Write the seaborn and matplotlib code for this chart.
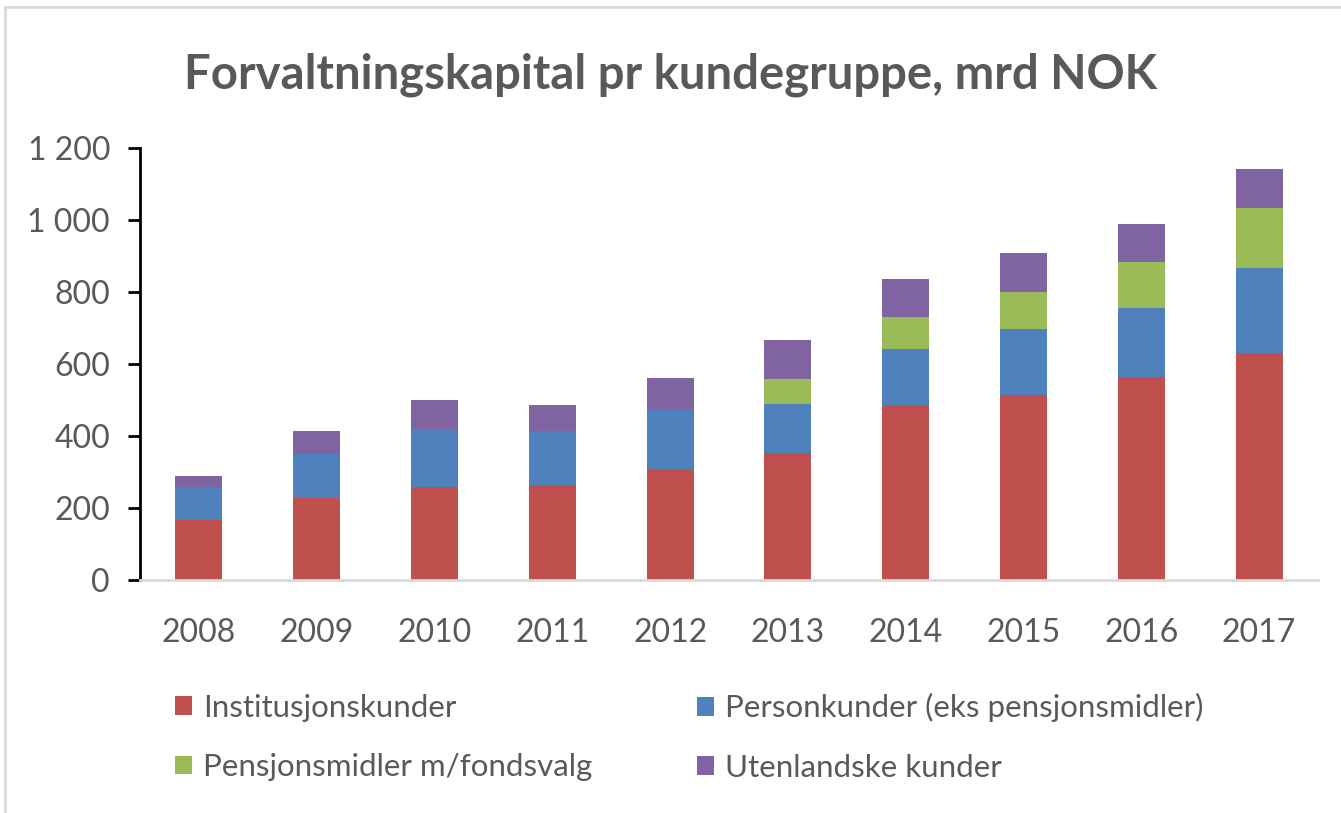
import matplotlib
matplotlib.use("Agg")
import matplotlib.pyplot as plt
from matplotlib.patches import Patch, Rectangle
from matplotlib.ticker import FuncFormatter
import seaborn as sns
import numpy as np
import pandas as pd

years = ["2008", "2009", "2010", "2011", "2012", "2013", "2014", "2015", "2016", "2017"]
institusjon = [167, 228, 258, 263, 308, 354, 485, 514, 565, 631]
person = [92, 121, 161, 150, 166, 135, 156, 182, 190, 235]
pensjon = [0, 0, 0, 0, 0, 70, 89, 105, 127, 167]
utenlandske = [29, 66, 81, 72, 86, 107, 106, 106, 106, 110]

series_names = ["Institusjonskunder", "Personkunder (eks pensjonsmidler)",
                "Pensjonsmidler m/fondsvalg", "Utenlandske kunder"]
series_vals = [institusjon, person, pensjon, utenlandske]
colors = ["#C0504D", "#4F81BD", "#9BBB59", "#8064A2"]

sns.set_style("white")
plt.rcParams["font.family"] = ["Lato", "DejaVu Sans"]

W, H = 1341, 813
fig = plt.figure(figsize=(W / 100, H / 100), dpi=100)
ax = fig.add_axes([140 / W, (H - 580) / H, 1178 / W, 432 / H])

cum = np.cumsum(np.array(series_vals, dtype=float), axis=0)
for i in range(len(series_vals) - 1, -1, -1):
    df = pd.DataFrame({"year": years, "value": cum[i]})
    sns.barplot(data=df, x="year", y="value", color=colors[i], width=0.40,
                saturation=1, ax=ax, edgecolor="none", linewidth=0, zorder=2)

ax.set_xlim(-0.5, 9.5)
ax.set_ylim(0, 1200)
ax.set_yticks(range(0, 1201, 200))
ax.yaxis.set_major_formatter(FuncFormatter(lambda v, p: f"{int(v):,}".replace(",", " ")))
ax.set_xlabel("")
ax.set_ylabel("")

for s in ["top", "right"]:
    ax.spines[s].set_visible(False)
ax.spines["left"].set_color("black")
ax.spines["left"].set_linewidth(2)
ax.spines["bottom"].set_color("#d9d9d9")
ax.spines["bottom"].set_linewidth(2)

ax.tick_params(axis="y", which="major", direction="out", length=8.6, width=2, color="black",
               left=True, labelsize=23, labelcolor="#595959", pad=13)
ax.tick_params(axis="x", length=0, labelsize=23, labelcolor="#595959", pad=27)

fig.text(0.5, 1 - 75 / H, "Forvaltningskapital pr kundegruppe, mrd NOK", ha="center", va="center",
         fontsize=34, fontweight="bold", color="#595959")

handles = [Patch(facecolor=colors[i], edgecolor="none") for i in range(4)]
leg_kw = dict(loc="center left", frameon=False, fontsize=22.5, labelcolor="#595959",
              handlelength=0.55, handleheight=0.55, handletextpad=0.35,
              labelspacing=1.0, borderpad=0, borderaxespad=0)
leg1 = fig.legend([handles[0], handles[2]], [series_names[0], series_names[2]],
                  bbox_to_anchor=(175 / W, 1 - 737.5 / H), **leg_kw)
leg2 = fig.legend([handles[1], handles[3]], [series_names[1], series_names[3]],
                  bbox_to_anchor=(697 / W, 1 - 737.5 / H), **leg_kw)

fig.patches.append(Rectangle((5 / W, -0.1), 1.1, 1.1 - 7 / H, transform=fig.transFigure,
                             fill=False, edgecolor="#d9d9d9", linewidth=2))

fig.savefig("out.png", dpi=100, facecolor="white")
